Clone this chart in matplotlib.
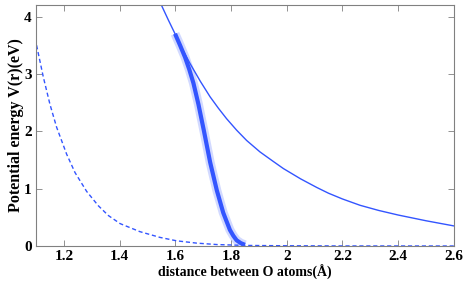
import numpy as np
import matplotlib.pyplot as plt

# solid curve (thin)
r_solid = [1.551, 1.575, 1.599, 1.625, 1.653, 1.69, 1.725, 1.755, 1.784, 1.82, 1.856, 1.904, 1.95, 1.988,
           2.05, 2.108, 2.15, 2.2, 2.263, 2.33, 2.4, 2.5, 2.6]
v_solid = [4.19, 3.94, 3.70, 3.44, 3.18, 2.87, 2.60, 2.40, 2.22, 2.02, 1.84, 1.64, 1.48, 1.35,
           1.17, 1.02, 0.92, 0.82, 0.71, 0.62, 0.54, 0.44, 0.35]

# thick curve
r_thick = [1.599, 1.617, 1.635, 1.65, 1.665, 1.683, 1.703, 1.725, 1.749, 1.772, 1.796, 1.808, 1.820, 1.835, 1.850]
v_thick = [3.70, 3.50, 3.29, 3.08, 2.84, 2.47, 2.00, 1.46, 0.97, 0.58, 0.28, 0.18, 0.10, 0.05, 0.02]

# dashed curve
r_dash = [1.102, 1.126, 1.150, 1.174, 1.21, 1.24, 1.282, 1.324, 1.36, 1.402, 1.473, 1.545, 1.605, 1.677,
          1.75, 1.85, 2.0, 2.2, 2.6]
v_dash = [3.50, 2.95, 2.47, 2.07, 1.60, 1.28, 0.95, 0.70, 0.53, 0.39, 0.25, 0.15, 0.09, 0.05,
          0.025, 0.01, 0.004, 0.001, 0.0]

blue = '#3355ff'

fig = plt.figure(figsize=(4.69, 3.0), dpi=100)
ax = fig.add_axes([0.0768, 0.18, 0.891, 0.803])

ax.plot(r_solid, v_solid, color=blue, lw=1.0)
ax.plot(r_thick, v_thick, color=blue, lw=6.5, alpha=0.22, solid_capstyle='butt')
ax.plot(r_thick, v_thick, color=blue, lw=3, solid_capstyle='butt')
ax.plot(r_dash, v_dash, color=blue, lw=1.0, linestyle=(0, (3, 2)))

ax.set_xlim(1.1, 2.6)
ax.set_ylim(0, 4.2)
ax.set_xticks([1.2, 1.4, 1.6, 1.8, 2.0, 2.2, 2.4, 2.6])
ax.set_xticklabels(['1.2', '1.4', '1.6', '1.8', '2', '2.2', '2.4', '2.6'])
ax.set_yticks([0, 1, 2, 3, 4])

for lab in ax.get_xticklabels() + ax.get_yticklabels():
    lab.set_fontfamily('Liberation Serif')
    lab.set_fontweight('bold')
    lab.set_fontsize(11)

ax.set_xlabel('distance between O atoms(Å)', family='Liberation Serif',
              weight='bold', size=10, labelpad=1)
ax.set_ylabel('Potential energy V(r)(eV)', family='Liberation Serif',
              weight='bold', size=11.5, labelpad=0)

for s in ax.spines.values():
    s.set_color('#808080')
    s.set_linewidth(0.8)
ax.tick_params(direction='in', top=True, right=True, length=4, width=0.6,
               color='#808080', pad=3)

fig.savefig('out.png', dpi=100)
